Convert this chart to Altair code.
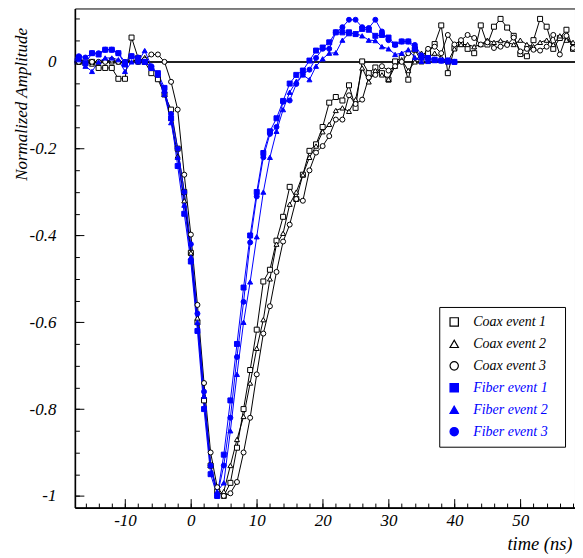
import altair as alt
import pandas as pd

# ---------------- data ----------------
time_coax = list(range(-18, 59))
time_fiber = list(range(-18, 41))

coax1 = [0.0, 0.0, -0.003, 0.0, -0.014, -0.014, -0.014, -0.039, -0.039, 0.056,
         0.009, 0.0, -0.026, -0.04, -0.075, -0.11, -0.20, -0.30, -0.44, -0.60,
         -0.78, -0.93, -0.99, -1.0, -0.97, -0.889, -0.80, -0.71, -0.617, -0.506,
         -0.479, -0.412, -0.357, -0.288, -0.316, -0.26, -0.205, -0.19, -0.15, -0.094,
         -0.081, -0.089, -0.054, -0.106, 0.001, -0.026, -0.013, -0.026, -0.041, 0.001,
         0.009, -0.041, 0.028, 0.001, 0.02, 0.041, 0.084, -0.026, 0.032, 0.041,
         0.03, 0.02, 0.084, 0.04, 0.081, 0.099, 0.079, 0.06, 0.018, 0.013,
         0.05, 0.099, 0.081, 0.03, 0.055, 0.074, 0.03]
coax2 = [0.0, 0.005, 0.0, -0.005, 0.0, 0.005, 0.0, 0.0, -0.005, 0.005,
         0.0, 0.01, -0.01, -0.03, -0.075, -0.13, -0.217, -0.32, -0.44, -0.59,
         -0.77, -0.93, -1.0, -0.99, -0.93, -0.87, -0.817, -0.74, -0.66, -0.594,
         -0.50, -0.42, -0.395, -0.328, -0.30, -0.26, -0.22, -0.194, -0.161, -0.144,
         -0.112, -0.106, -0.114, -0.087, -0.014, -0.046, -0.02, -0.03, -0.04, -0.01,
         0.005, -0.02, 0.0, 0.02, 0.01, 0.02, 0.01, 0.0, 0.03, 0.04,
         0.04, 0.035, 0.04, 0.05, 0.045, 0.049, 0.045, 0.04, 0.05, 0.04,
         0.035, 0.045, 0.05, 0.04, 0.06, 0.05, 0.045]
coax3 = [0.0, 0.0, 0.005, 0.0, 0.0, 0.0, 0.005, 0.0, 0.0, 0.005,
         0.0, 0.005, 0.017, 0.017, 0.0, -0.046, -0.11, -0.26, -0.398, -0.56,
         -0.74, -0.90, -0.98, -1.0, -0.994, -0.968, -0.90, -0.82, -0.72, -0.626,
         -0.563, -0.484, -0.414, -0.375, -0.316, -0.32, -0.25, -0.209, -0.194, -0.171,
         -0.133, -0.133, -0.077, -0.097, -0.087, -0.036, -0.03, -0.01, -0.02, -0.01,
         0.0, 0.02, 0.03, 0.01, 0.03, 0.035, 0.02, 0.062, 0.04, 0.05,
         0.062, 0.055, 0.04, 0.045, 0.032, 0.035, 0.039, 0.056, 0.024, 0.03,
         0.028, 0.026, 0.035, 0.062, 0.017, 0.06, 0.032]
fiber1 = [0.0, 0.01, -0.003, 0.02, 0.017, 0.028, 0.028, 0.02, -0.006, 0.013,
          0.005, 0.0, -0.014, -0.026, -0.06, -0.13, -0.24, -0.35, -0.46, -0.62,
          -0.80, -0.95, -1.0, -0.905, -0.78, -0.65, -0.52, -0.40, -0.30, -0.21,
          -0.16, -0.13, -0.09, -0.05, -0.03, -0.02, 0.003, 0.026, 0.033, 0.045,
          0.068, 0.068, 0.068, 0.064, 0.076, 0.074, 0.06, 0.062, 0.056, 0.04,
          0.047, 0.047, 0.03, 0.01, 0.009, 0.005, 0.003, 0.003, 0.0]
fiber2 = [0.0, 0.005, -0.01, -0.022, 0.0, 0.009, 0.009, 0.005, -0.022, 0.0,
          0.0, 0.026, -0.01, -0.03, -0.075, -0.14, -0.22, -0.33, -0.45, -0.60,
          -0.77, -0.93, -0.99, -0.97, -0.85, -0.72, -0.60, -0.507, -0.403, -0.30,
          -0.22, -0.16, -0.11, -0.07, -0.045, -0.03, -0.041, -0.01, 0.007, 0.02,
          0.021, 0.05, 0.065, 0.065, 0.06, 0.05, 0.049, 0.035, 0.03, 0.017,
          0.02, 0.028, 0.01, 0.001, 0.001, 0.003, 0.003, 0.0, 0.0]
fiber3 = [0.005, 0.013, 0.01, 0.02, 0.02, 0.028, 0.028, 0.02, 0.0, 0.013,
          0.01, 0.0, -0.01, -0.03, -0.07, -0.12, -0.20, -0.30, -0.42, -0.58,
          -0.76, -0.93, -1.0, -0.93, -0.82, -0.68, -0.553, -0.416, -0.31, -0.22,
          -0.166, -0.15, -0.092, -0.089, -0.051, -0.029, -0.018, 0.009, 0.03, 0.03,
          0.068, 0.08, 0.097, 0.097, 0.08, 0.078, 0.097, 0.07, 0.05, 0.039,
          0.047, 0.047, 0.039, 0.015, 0.008, 0.005, 0.003, 0.003, 0.0]

names = ["Coax event 1", "Coax event 2", "Coax event 3",
         "Fiber event 1", "Fiber event 2", "Fiber event 3"]
series_values = [coax1, coax2, coax3, fiber1, fiber2, fiber3]
series_times = [time_coax] * 3 + [time_fiber] * 3

x_major = [-10, 0, 10, 20, 30, 40, 50]
y_major = [0, -0.2, -0.4, -0.6, -0.8, -1]

# ---------------- build table ----------------
rows = []
for name, times, vals in zip(names, series_times, series_values):
    for t, v in zip(times, vals):
        rows.append({"t": t, "v": v, "series": name, "series_b": name})
df = pd.DataFrame(rows)

shapes = ["square", "triangle-up", "circle", "square", "triangle-up", "circle"]
strokes = ["#000000"] * 3 + ["#0000ff"] * 3
fills = ["#ffffff"] * 3 + ["#0000ff"] * 3

x_minor = [v for v in range(-16, 59, 2)]
y_minor = [round(-1 + 0.05 * i, 2) for i in range(0, 23)]

W, H = 501, 500
FONT = "Liberation Serif"
PAD = "\u2800"
xs = alt.Scale(domain=[-17.6, 58.3], nice=False, zero=False)
ys = alt.Scale(domain=[-1.027, 0.123], nice=False, zero=False)

base = alt.Chart(df)

zero_line = alt.Chart(df).mark_rule(color="#222222", strokeWidth=1.3).encode(
    y=alt.YDatum(datum=0, type="quantitative", scale=ys, axis=None)
)

lines = base.mark_line(strokeWidth=1, clip=True).encode(
    x=alt.X("t:Q", scale=xs, axis=alt.Axis(
        orient="bottom", values=x_major, tickSize=0, labelPadding=5,
        labelExpr="toString(datum.value)", title="time (ns)", titleFontSize=18.5,
        titleAnchor="end", titleAlign="right", titleBaseline="middle",
        titleX=498, titleY=36, domainWidth=1.6, domainColor="#000000",
        grid=False)),
    y=alt.Y("v:Q", scale=ys, axis=alt.Axis(
        orient="left", values=y_major, tickSize=0, labelPadding=19,
        labelExpr="toString(datum.value)", title="Normalized Amplitude",
        titleAngle=-90, titleAlign="right", titleBaseline="middle",
        titleX=-53, titleY=19, domainWidth=1.6, domainColor="#000000",
        grid=False)),
    color=alt.Color("series:N", scale=alt.Scale(domain=names, range=strokes), legend=None),
    detail="series:N",
)

common_legend = dict(
    title=None, orient="none", legendX=365, legendY=299,
    padding=8, rowPadding=8, symbolSize=70, symbolStrokeWidth=1.2,
    labelFont=FONT, labelFontStyle="italic", labelFontSize=14, labelOffset=12,
    cornerRadius=0,
)

legend_a = alt.Legend(
    strokeColor="#000000", fillColor="#ffffff", labelColor="#000000", zindex=1,
    labelExpr="indexof(datum.label, 'Fiber') >= 0 ? ' ' : datum.label + '" + PAD + "'",
    **common_legend,
)
legend_b = alt.Legend(
    labelColor="#0000ff", symbolOpacity=0, zindex=2,
    labelExpr="indexof(datum.label, 'Fiber') >= 0 ? datum.label : ' '",
    **common_legend,
)

points = base.mark_point(filled=True, size=25, strokeWidth=1, opacity=1, clip=True).encode(
    x=alt.X("t:Q", scale=xs, axis=alt.Axis(
        orient="top", offset=-H, values=x_major, tickSize=9, labels=False,
        domain=False, grid=False, title=None, tickColor="#000000")),
    y=alt.Y("v:Q", scale=ys, axis=alt.Axis(
        orient="right", offset=-W, values=y_major, tickSize=9, labels=False,
        domain=False, grid=False, title=None, tickColor="#000000")),
    shape=alt.Shape("series:N", scale=alt.Scale(domain=names, range=shapes), legend=legend_a),
    stroke=alt.Stroke("series:N", scale=alt.Scale(domain=names, range=strokes), legend=legend_a),
    fill=alt.Fill("series:N", scale=alt.Scale(domain=names, range=fills), legend=legend_a),
)

minor = base.mark_point(opacity=0).encode(
    x=alt.X("t:Q", scale=xs, axis=alt.Axis(
        orient="top", offset=-H, values=x_minor, tickSize=4.5, labels=False,
        domain=False, grid=False, title=None, tickColor="#000000")),
    y=alt.Y("v:Q", scale=ys, axis=alt.Axis(
        orient="right", offset=-W, values=y_minor, tickSize=4.5, labels=False,
        domain=False, grid=False, title=None, tickColor="#000000")),
    shape=alt.Shape("series_b:N", scale=alt.Scale(domain=names, range=shapes), legend=legend_b),
)

chart = alt.layer(zero_line, lines, points, minor).resolve_scale(
    shape="independent", stroke="independent", fill="independent"
).resolve_axis(
    x="independent", y="independent"
).properties(
    width=W, height=H,
    autosize=alt.AutoSizeParams(type="none"),
    padding={"left": 67, "top": 0, "right": 0, "bottom": 48},
).configure_view(
    stroke="#000000", strokeWidth=1
).configure_axis(
    labelFont=FONT, labelFontStyle="italic", labelFontSize=17, labelColor="#000000",
    titleFont=FONT, titleFontStyle="italic", titleFontSize=17, titleFontWeight="normal",
    titleColor="#000000", tickWidth=1,
)

chart.save("out.html", embed_options={"renderer": "svg", "actions": False})
